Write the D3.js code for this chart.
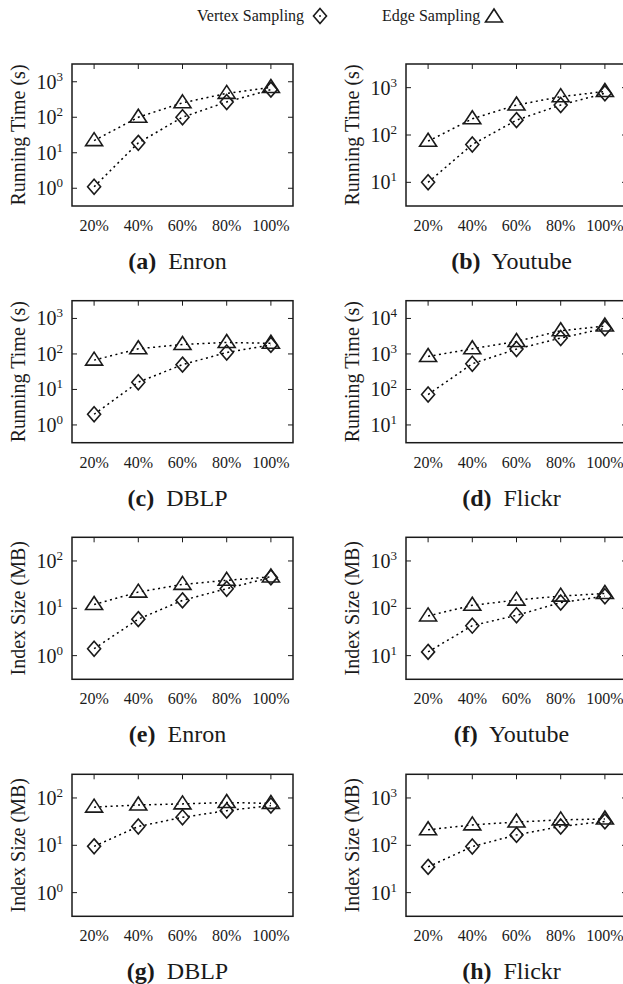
<!DOCTYPE html>
<html>
<head>
<meta charset="utf-8">
<script src="https://cdn.jsdelivr.net/npm/d3@7/dist/d3.min.js"></script>
<style>
  html, body { margin: 0; padding: 0; background: #fff; }
  text { font-family: "Liberation Serif", "DejaVu Serif", serif; fill: #1a1a1a; }
</style>
</head>
<body>
<svg id="chart" width="623" height="984"></svg>
<script>
// sample sizes on the x axis
var percents = [20, 40, 60, 80, 100];
var percentLabels = ["20%", "40%", "60%", "80%", "100%"];

// running time (s)
var vertexEnronTime = [1.1, 19, 100, 270, 600];
var edgeEnronTime = [22, 100, 255, 470, 690];
var vertexYoutubeTime = [10, 63, 206, 430, 760];
var edgeYoutubeTime = [74, 220, 430, 645, 830];
var vertexDblpTime = [2, 16, 50, 110, 180];
var edgeDblpTime = [67, 140, 185, 210, 200];
var vertexFlickrTime = [72, 530, 1370, 2800, 5300];
var edgeFlickrTime = [850, 1400, 2250, 4500, 6100];

// index size (MB)
var vertexEnronSize = [1.4, 5.9, 14.7, 26, 45];
var edgeEnronSize = [12, 22, 32, 39, 46];
var vertexYoutubeSize = [12, 43, 71, 132, 180];
var edgeYoutubeSize = [69, 116, 149, 181, 206];
var vertexDblpSize = [9.5, 25, 39, 54, 69];
var edgeDblpSize = [64, 71, 75, 80, 77];
var vertexFlickrSize = [35, 94, 166, 250, 320];
var edgeFlickrSize = [213, 270, 310, 345, 360];

var panelLetters = ["a", "b", "c", "d", "e", "f", "g", "h"];
var panelNames = ["Enron", "Youtube", "DBLP", "Flickr", "Enron", "Youtube", "DBLP", "Flickr"];
var panelYLabels = ["Running Time (s)", "Running Time (s)", "Running Time (s)", "Running Time (s)",
                    "Index Size (MB)", "Index Size (MB)", "Index Size (MB)", "Index Size (MB)"];
// log10 range of each y axis
var panelLogDomains = [[-0.5, 3.5], [0.5, 3.5], [-0.5, 3.5], [0.5, 4.5],
                       [-0.5, 2.5], [0.5, 3.5], [-0.5, 2.5], [0.5, 3.5]];
var vertexSeries = [vertexEnronTime, vertexYoutubeTime, vertexDblpTime, vertexFlickrTime,
                    vertexEnronSize, vertexYoutubeSize, vertexDblpSize, vertexFlickrSize];
var edgeSeries = [edgeEnronTime, edgeYoutubeTime, edgeDblpTime, edgeFlickrTime,
                  edgeEnronSize, edgeYoutubeSize, edgeDblpSize, edgeFlickrSize];

var ink = "#1a1a1a";
var colLeft = [72, 406];
var rowTop = [64, 300.7, 537.3, 774.3];
var boxW = 221, boxH = 142;

var svg = d3.select("#chart");

function diamond(g, x, y) {
    g.append("path")
        .attr("d", "M" + x + "," + (y - 7.5) + "L" + (x + 6.5) + "," + y +
                   "L" + x + "," + (y + 7.5) + "L" + (x - 6.5) + "," + y + "Z")
        .attr("fill", "none").attr("stroke", ink).attr("stroke-width", 1.6);
}

function triangle(g, x, y) {
    g.append("path")
        .attr("d", "M" + x + "," + (y - 8) + "L" + (x + 8.5) + "," + (y + 5) +
                   "L" + (x - 8.5) + "," + (y + 5) + "Z")
        .attr("fill", "none").attr("stroke", ink).attr("stroke-width", 1.6);
}

/**
 * draws one small panel with its frame, ticks, two dotted series and caption
 */
function drawPanel(i) {
    var left = colLeft[i % 2], top = rowTop[Math.floor(i / 2)];
    var g = svg.append("g").attr("transform", "translate(" + left + "," + top + ")");
    var dom = panelLogDomains[i];

    var x = d3.scaleLinear().domain([10, 110]).range([0, boxW]);
    var y = d3.scaleLog().domain([Math.pow(10, dom[0]), Math.pow(10, dom[1])]).range([boxH, 0]);

    var decades = d3.range(Math.ceil(dom[0]), Math.floor(dom[1]) + 1);

    // ticks: inward on left, right and top
    decades.forEach(function(e) {
        var yy = y(Math.pow(10, e));
        g.append("line").attr("x1", 0).attr("x2", 5).attr("y1", yy).attr("y2", yy)
            .attr("stroke", ink).attr("stroke-width", 1);
        g.append("line").attr("x1", boxW - 5).attr("x2", boxW).attr("y1", yy).attr("y2", yy)
            .attr("stroke", ink).attr("stroke-width", 1);
        var t = g.append("text").attr("x", -9).attr("y", yy + 7)
            .attr("text-anchor", "end").style("font-size", "20px");
        t.append("tspan").text("10");
        t.append("tspan").attr("dy", -8).style("font-size", "13px").text(e);
    });
    percents.forEach(function(p, k) {
        g.append("line").attr("x1", x(p)).attr("x2", x(p)).attr("y1", 0).attr("y2", 5)
            .attr("stroke", ink).attr("stroke-width", 1);
        g.append("text").attr("x", x(p)).attr("y", boxH + 25)
            .attr("text-anchor", "middle").style("font-size", "16px").text(percentLabels[k]);
    });

    g.append("rect").attr("width", boxW).attr("height", boxH)
        .attr("fill", "none").attr("stroke", ink).attr("stroke-width", 1.5);

    var line = d3.line().x(function(d, k) { return x(percents[k]); })
                        .y(function(d) { return y(d); });

    [edgeSeries[i], vertexSeries[i]].forEach(function(s) {
        g.append("path").attr("d", line(s)).attr("fill", "none")
            .attr("stroke", "#000").attr("stroke-width", 1.5)
            .attr("stroke-dasharray", "2,3.5");
    });
    edgeSeries[i].forEach(function(d, k) { triangle(g, x(percents[k]), y(d)); });
    vertexSeries[i].forEach(function(d, k) { diamond(g, x(percents[k]), y(d)); });

    g.append("text")
        .attr("transform", "translate(-54," + (boxH / 2) + ") rotate(-90)")
        .attr("text-anchor", "middle").attr("dy", "0.35em")
        .style("font-size", "20px").text(panelYLabels[i]);

    var cap = g.append("text").attr("x", boxW / 2 - 5).attr("y", boxH + 63)
        .attr("text-anchor", "middle").style("font-size", "24px");
    cap.append("tspan").style("font-weight", "bold").text("(" + panelLetters[i] + ")");
    cap.append("tspan").text("\u00a0 " + panelNames[i]);
}

d3.range(8).forEach(drawPanel);

// legend
var leg = svg.append("g");
leg.append("text").attr("x", 197).attr("y", 21).style("font-size", "16px").text("Vertex Sampling");
diamond(leg, 320, 16);
leg.append("circle").attr("cx", 320).attr("cy", 16).attr("r", 1).attr("fill", ink);
leg.append("text").attr("x", 382).attr("y", 21).style("font-size", "16px").text("Edge Sampling");
triangle(leg, 494, 17);
</script>
</body>
</html>
